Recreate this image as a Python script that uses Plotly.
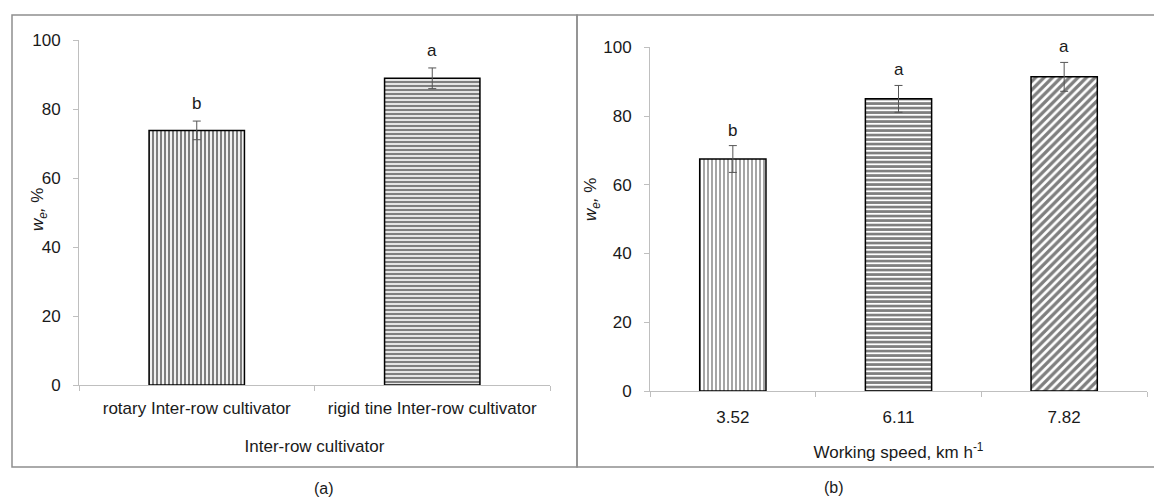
import plotly.graph_objects as go

# ---- data ----
cultivators = ["rotary Inter-row cultivator", "rigid tine Inter-row cultivator"]
we_cultivator = [73.8, 88.9]
err_cultivator = [2.7, 3.0]
letters_cultivator = ["b", "a"]

speeds = ["3.52", "6.11", "7.82"]
we_speed = [67.5, 85.0, 91.4]
err_speed = [3.9, 3.9, 4.2]
letters_speed = ["b", "a", "a"]

y_ticks = [0, 20, 40, 60, 80, 100]

FONT = "Liberation Sans Narrow, Arial Narrow, Liberation Sans, Arial, sans-serif"
TXT = "#1a1a1a"
W, H = 1154, 498
FS = 17

def px(xp):
    return xp / W

def py(yp):
    return 1 - yp / H

fig = go.Figure()

fig.add_trace(go.Bar(
    x=cultivators, y=we_cultivator, width=0.405,
    xaxis="x", yaxis="y",
    marker=dict(color="white", line=dict(color="black", width=1.5),
                pattern=dict(shape=["|", "-"], size=4, solidity=[0.55, 0.6],
                             fgcolor="black", bgcolor="white")),
    error_y=dict(type="data", array=err_cultivator, color="#555555",
                 thickness=1, width=4),
    showlegend=False,
))

fig.add_trace(go.Bar(
    x=speeds, y=we_speed, width=0.4,
    xaxis="x2", yaxis="y2",
    marker=dict(color="white", line=dict(color="black", width=1.5),
                pattern=dict(shape=["|", "-", "/"], size=[4, 4.5, 6], solidity=[0.35, 0.6, 0.55],
                             fgcolor="black", bgcolor="white")),
    error_y=dict(type="data", array=err_speed, color="#555555",
                 thickness=1, width=4),
    showlegend=False,
))

axis_common = dict(
    showgrid=False, zeroline=False, showline=True, linecolor="#bfbfbf", linewidth=1,
    ticks="outside", ticklen=5, tickcolor="#bfbfbf", automargin=False,
    tickfont=dict(family=FONT, size=FS, color=TXT),
)

fig.update_layout(
    width=W, height=H,
    margin=dict(l=0, r=0, t=0, b=0, autoexpand=False),
    paper_bgcolor="white", plot_bgcolor="white",
    font=dict(family=FONT, color=TXT),
    xaxis=dict(domain=[px(79), px(550)], anchor="y", type="category",
               tickson="boundaries", ticklabelstandoff=8,
               title=dict(text="Inter-row cultivator", font=dict(family=FONT, size=FS, color=TXT), standoff=22),
               **axis_common),
    yaxis=dict(domain=[py(385), py(40)], anchor="x", range=[0, 100], tickvals=y_ticks,
               ticklabelstandoff=9, **axis_common),
    xaxis2=dict(domain=[px(650), px(1147)], anchor="y2", type="category",
                tickson="boundaries", ticklabelstandoff=11,
                title=dict(text="Working speed, km h<sup>-1</sup>", font=dict(family=FONT, size=FS, color=TXT), standoff=19),
                **axis_common),
    yaxis2=dict(domain=[py(391), py(47.3)], anchor="x2", range=[0, 100], tickvals=y_ticks,
                ticklabelstandoff=9, **axis_common),
)

# significance letters above error bars (category index positions)
for i, (v, e, l) in enumerate(zip(we_cultivator, err_cultivator, letters_cultivator)):
    fig.add_annotation(x=i, y=v + e, xref="x", yref="y", text=l, showarrow=False,
                       yanchor="bottom", yshift=6, font=dict(family=FONT, size=FS, color=TXT))
for i, (v, e, l) in enumerate(zip(we_speed, err_speed, letters_speed)):
    fig.add_annotation(x=i, y=v + e, xref="x2", yref="y2", text=l, showarrow=False,
                       yanchor="bottom", yshift=4, font=dict(family=FONT, size=FS, color=TXT))

# y-axis titles
fig.add_annotation(x=px(26), y=py(210), xref="paper", yref="paper",
                   text="<i>w<sub>e</sub>,</i> %", textangle=-90, showarrow=False,
                   font=dict(family=FONT, size=FS, color=TXT))
fig.add_annotation(x=px(592), y=py(200), xref="paper", yref="paper",
                   text="<i>w<sub>e</sub>,</i> %", textangle=-90, showarrow=False,
                   font=dict(family=FONT, size=FS, color=TXT))

# panel labels
fig.add_annotation(x=px(313), y=0, xref="paper", yref="paper", text="(a)",
                   yanchor="bottom", showarrow=False, borderpad=0,
                   font=dict(family=FONT, size=16, color=TXT))
fig.add_annotation(x=px(845), y=0, xref="paper", yref="paper", text="(b)",
                   yanchor="bottom", yshift=1, showarrow=False, borderpad=0,
                   font=dict(family=FONT, size=16, color=TXT))

# panel frames
fig.add_shape(type="rect", xref="paper", yref="paper",
              x0=px(12), x1=px(577), y0=py(467), y1=py(15),
              line=dict(color="#8f8f8f", width=1.5))
fig.add_shape(type="rect", xref="paper", yref="paper",
              x0=px(577), x1=px(1160), y0=py(467), y1=py(15),
              line=dict(color="#8f8f8f", width=1.5))

fig.write_html("out.html", config={"displayModeBar": False},
               post_script="document.body.style.margin='0';")
